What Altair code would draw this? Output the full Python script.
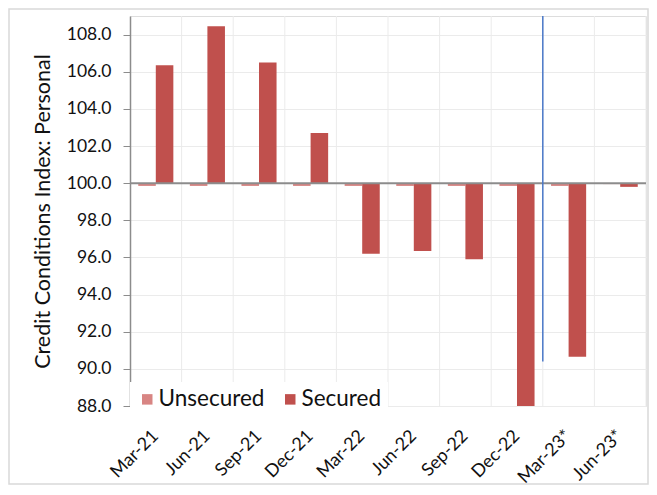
import altair as alt
import pandas as pd

categories = ["Mar-21", "Jun-21", "Sep-21", "Dec-21", "Mar-22",
              "Jun-22", "Sep-22", "Dec-22", "Mar-23*", "Jun-23*"]
series = ["Unsecured", "Secured"]
unsecured = [99.85, 99.85, 99.85, 99.85, 99.85, 99.85, 99.85, 99.85, 99.85, 99.95]
secured = [106.35, 108.45, 106.5, 102.7, 96.2, 96.35, 95.9, 87.5, 90.65, 99.8]
colors = ["#d88583", "#c0504d"]
y_ticks = [88, 90, 92, 94, 96, 98, 100, 102, 104, 106, 108]
y_domain = [88, 109]
baseline = 100
marker_cat = "Mar-23*"
marker_top = 109
marker_bottom = 90.4

rows = []
for i, c in enumerate(categories):
    rows.append({"cat": c, "series": "Unsecured", "value": unsecured[i], "base": baseline})
    rows.append({"cat": c, "series": "Secured", "value": secured[i], "base": baseline})
df = pd.DataFrame(rows)

FONT = "Lato"
TXT = "#111111"

xscale = alt.Scale(domain=categories, paddingInner=0, paddingOuter=0)
yscale = alt.Scale(domain=y_domain, nice=False, zero=False)

xaxis = alt.Axis(title=None, labelAngle=-45, labelAlign="right", labelBaseline="middle",
                 labelFontSize=18, labelFont=FONT, labelColor=TXT, ticks=False,
                 domain=False, grid=False, labelPadding=27)
yaxis = alt.Axis(title="Credit Conditions Index: Personal", values=y_ticks, format=".1f",
                 labelFontSize=17.5, labelFont=FONT, labelColor=TXT,
                 titleFontSize=21.5, titleFont=FONT, titleColor=TXT, titleFontWeight="normal",
                 titlePadding=12, grid=True, gridColor="#ebebeb",
                 domainColor="#8c8c8c", domainWidth=1.5, tickColor="#8c8c8c",
                 tickSize=7, labelPadding=12)

bars = alt.Chart(df).mark_bar(clip=True).encode(
    x=alt.X("cat:N", sort=categories, scale=xscale, axis=xaxis),
    xOffset=alt.XOffset("series:N", sort=series,
                        scale=alt.Scale(domain=series, paddingOuter=0.47, paddingInner=0)),
    y=alt.Y("value:Q", scale=yscale, axis=yaxis),
    y2="base:Q",
    color=alt.Color("series:N", sort=series,
                    scale=alt.Scale(domain=series, range=colors),
                    legend=alt.Legend(title=None, orient="none", legendX=0, legendY=366,
                                      direction="horizontal", fillColor="white", padding=6,
                                      symbolType="square", symbolSize=110, symbolStrokeWidth=0,
                                      labelFontSize=22.5, labelFont=FONT, labelColor=TXT,
                                      columnPadding=14, labelOffset=0)),
)

grid_df = pd.DataFrame({"cat": categories[1:]})
vgrid = alt.Chart(grid_df).mark_rule(color="#ebebeb", strokeWidth=1).encode(
    x=alt.X("cat:N", sort=categories, scale=xscale, bandPosition=0, axis=xaxis)
)
edge_df = pd.DataFrame({"cat": [categories[-1]]})
vedge = alt.Chart(edge_df).mark_rule(color="#ebebeb", strokeWidth=1).encode(
    x=alt.X("cat:N", sort=categories, scale=xscale, bandPosition=1, axis=xaxis)
)

zero = alt.Chart(pd.DataFrame({"value": [baseline]})).mark_rule(color="#8c8c8c", strokeWidth=2).encode(
    y=alt.Y("value:Q", scale=yscale, axis=yaxis)
)

marker = alt.Chart(pd.DataFrame({"cat": [marker_cat], "value": [marker_top], "base": [marker_bottom]})).mark_rule(
    color="#4a78c8", strokeWidth=1.5).encode(
    x=alt.X("cat:N", sort=categories, scale=xscale, bandPosition=0, axis=xaxis),
    y=alt.Y("value:Q", scale=yscale, axis=yaxis),
    y2="base:Q",
)

frame = alt.Chart(pd.DataFrame({"a": [0]})).mark_rect(
    fillOpacity=0, stroke="#d9d9d9", strokeWidth=1.5, clip=False).encode(
    x=alt.value(-121), x2=alt.value(518), y=alt.value(-7), y2=alt.value(468)
)

chart = alt.layer(frame, vgrid, vedge, bars, zero, marker).properties(
    width=516, height=390,
    autosize=alt.AutoSizeParams(type="none"),
    padding={"left": 122, "top": 8, "right": 3, "bottom": 80},
).configure_view(stroke=None).configure(background="white")

chart.save("out.html", embed_options={"renderer": "svg", "actions": False})
